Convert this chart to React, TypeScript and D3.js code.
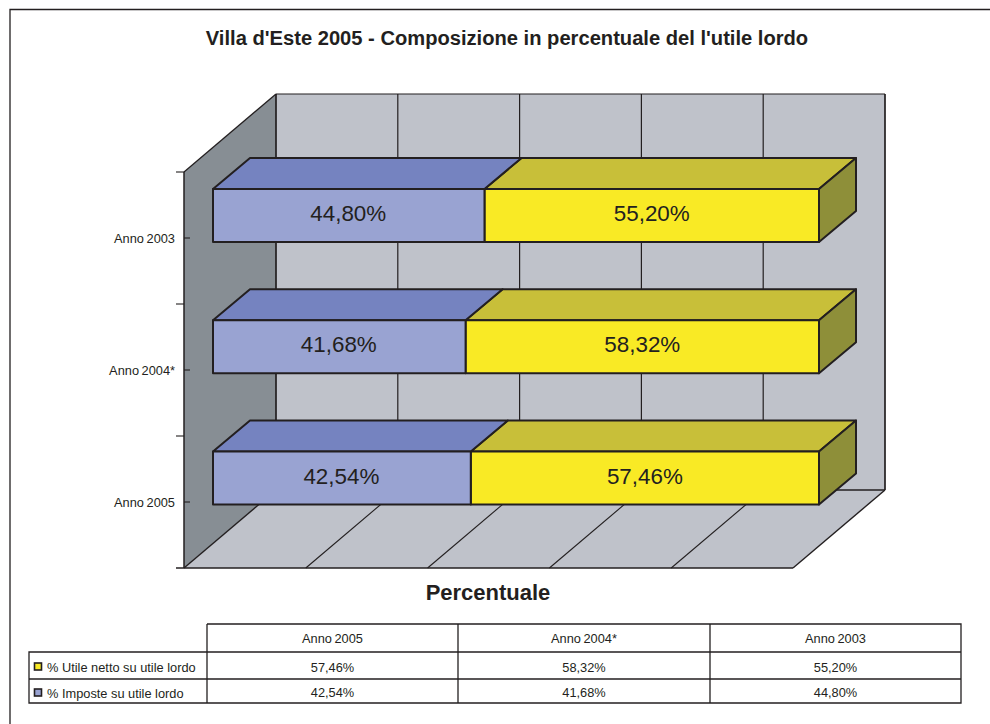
import React from "react";
import * as d3 from "d3";

const title = "Villa d'Este 2005 - Composizione in percentuale del l'utile lordo";
const axisTitle = "Percentuale";
const categories = ["Anno 2003", "Anno 2004*", "Anno 2005"];
const tableCategories = ["Anno 2005", "Anno 2004*", "Anno 2003"];
const imposte = [44.8, 41.68, 42.54];
const utile = [55.2, 58.32, 57.46];
const xTicks = [0, 20, 40, 60, 80, 100];
const seriesNames = ["% Utile netto su utile lordo", "% Imposte su utile lordo"];

const INK = "#231f20";
const WALL = "#bfc2ca";
const SIDE_WALL = "#878e94";
const BLUE = ["#99a3d2", "#7583c0"];
const YELLOW = ["#f9ea25", "#c8bf39", "#8e8f39"];
const FONT = "'Liberation Sans', Arial, sans-serif";
const fmt = (v: number) => v.toFixed(2).replace(".", ",") + "%";

const DX = 92, DY = -78;           // wall depth
const BDX = 37, BDY = -31;         // bar depth
const x0 = d3.scaleLinear().domain([0, 100]).range([184, 793]);
const xBar = d3.scaleLinear().domain([0, 100]).range([213, 819]);
const y = d3.scaleBand().domain(categories).range([172, 568]);
const yBar = d3.scalePoint().domain(categories).range([189, 451.5]);
const BAR_H = 53;
const pts = (p: number[][]) => p.map((q) => q.join(",")).join(" ");

function Box({ a, b, top, h, colors, side }: { a: number; b: number; top: number; h: number; colors: string[]; side?: boolean }) {
  const common = { stroke: INK, strokeWidth: 2, strokeLinejoin: "round" as const };
  return (
    <g>
      <polygon points={pts([[a, top], [a + BDX, top + BDY], [b + BDX, top + BDY], [b, top]])} fill={colors[1]} {...common} />
      {side && <polygon points={pts([[b, top], [b + BDX, top + BDY], [b + BDX, top + BDY + h], [b, top + h]])} fill={colors[2]} {...common} />}
      <rect x={a} y={top} width={b - a} height={h} fill={colors[0]} {...common} />
    </g>
  );
}

export default function App() {
  const tableX = [207, 458, 710, 961];
  const tableY = [624, 652, 679, 703];
  const yMin = 172, yMax = 568;
  const small = 12.8;
  return (
    <svg width={990} height={724} style={{ position: "absolute", left: 0, top: 0, background: "#fff" }} fontFamily={FONT}>
      <path d="M10,724V9.5H990" fill="none" stroke={INK} strokeWidth={1.3} />
      <text x={507} y={45} textAnchor="middle" fontSize={20.15} fontWeight="bold" fill={INK}>{title}</text>

      {/* walls and floor */}
      <polygon points={pts([[x0(0) + DX, yMin + DY], [x0(100) + DX, yMin + DY], [x0(100) + DX, yMax + DY], [x0(0) + DX, yMax + DY]])} fill={WALL} />
      <polygon points={pts([[x0(0), yMin], [x0(0) + DX, yMin + DY], [x0(0) + DX, yMax + DY], [x0(0), yMax]])} fill={SIDE_WALL} />
      <polygon points={pts([[x0(0), yMax], [x0(0) + DX, yMax + DY], [x0(100) + DX, yMax + DY], [x0(100), yMax]])} fill={WALL} />
      <line x1={x0(0) + DX} x2={x0(100) + DX} y1={yMin + DY} y2={yMin + DY} stroke={INK} strokeWidth={1.2} />
      <line x1={x0(0) + DX} x2={x0(100) + DX} y1={yMax + DY} y2={yMax + DY} stroke={INK} strokeWidth={1.6} />
      {xTicks.map((t) => (
        <g key={t} stroke={INK}>
          <line x1={x0(t) + DX} x2={x0(t) + DX} y1={yMin + DY} y2={yMax + DY} strokeWidth={t === 0 || t === 100 ? 1.7 : 1.2} />
          <line x1={x0(t)} x2={x0(t) + DX} y1={yMax} y2={yMax + DY} strokeWidth={t === 0 || t === 100 ? 1.4 : 1.1} />
        </g>
      ))}
      <line x1={x0(0)} x2={x0(0) + DX} y1={yMin} y2={yMin + DY} stroke={INK} strokeWidth={1.3} />
      <line x1={x0(0)} x2={x0(0)} y1={yMin} y2={yMax} stroke={INK} strokeWidth={1.5} />
      <line x1={176} x2={x0(100)} y1={yMax} y2={yMax} stroke={INK} strokeWidth={1.6} />

      {/* category axis */}
      {categories.map((c) => {
        const mid = (y(c) as number) + y.bandwidth() / 2;
        return (
          <g key={c}>
            <line x1={176} x2={184} y1={y(c) as number} y2={y(c) as number} stroke={INK} strokeWidth={1.1} />
            <line x1={184} x2={190} y1={mid} y2={mid} stroke={INK} strokeWidth={1.1} />
            <text x={175} y={mid + 4.5} textAnchor="end" fontSize={small} wordSpacing={-1} fill={INK}>{c}</text>
          </g>
        );
      })}

      {/* bars, back to front */}
      {categories.map((c, i) => {
        const top = yBar(c) as number;
        const split = xBar(imposte[i]);
        return (
          <g key={c}>
            <Box a={split} b={xBar(100)} top={top} h={BAR_H} colors={YELLOW} side />
            <Box a={xBar(0)} b={split} top={top} h={BAR_H} colors={BLUE} />
            <text x={(xBar(0) + split) / 2 - 0.5} y={top + 32} textAnchor="middle" fontSize={22.4} fill={INK}>{fmt(imposte[i])}</text>
            <text x={(split + xBar(100)) / 2} y={top + 32} textAnchor="middle" fontSize={22.4} fill={INK}>{fmt(utile[i])}</text>
          </g>
        );
      })}

      <text x={488} y={600} textAnchor="middle" fontSize={22} fontWeight="bold" fill={INK}>{axisTitle}</text>

      {/* data table */}
      <g stroke={INK} fill="none">
        <path d={`M${tableX[0]},${tableY[0]}H${tableX[3]}V${tableY[3]}H29V${tableY[1]}H${tableX[3]}M29,${tableY[2]}H${tableX[3]}`} strokeWidth={1.3} />
        {tableX.slice(0, 3).map((t) => <line key={t} x1={t} x2={t} y1={tableY[0]} y2={tableY[3]} strokeWidth={1.3} />)}
      </g>
      {tableCategories.map((c, i) => {
        const cx = (tableX[i] + tableX[i + 1]) / 2;
        const k = categories.indexOf(c);
        return (
          <g key={c} fontSize={small} fill={INK} textAnchor="middle">
            <text x={cx} y={642.5} wordSpacing={-1}>{c}</text>
            <text x={cx} y={671.5}>{fmt(utile[k])}</text>
            <text x={cx} y={697}>{fmt(imposte[k])}</text>
          </g>
        );
      })}
      {seriesNames.map((s, i) => {
        const yy = i === 0 ? 668 : 694;
        return (
          <g key={s}>
            <rect x={34.5} y={yy - 5} width={7} height={7} fill={i === 0 ? YELLOW[0] : BLUE[0]} stroke={INK} strokeWidth={1.6} />
            <text x={47} y={yy + 3.5} fontSize={small} fill={INK}>{s}</text>
          </g>
        );
      })}
    </svg>
  );
}
